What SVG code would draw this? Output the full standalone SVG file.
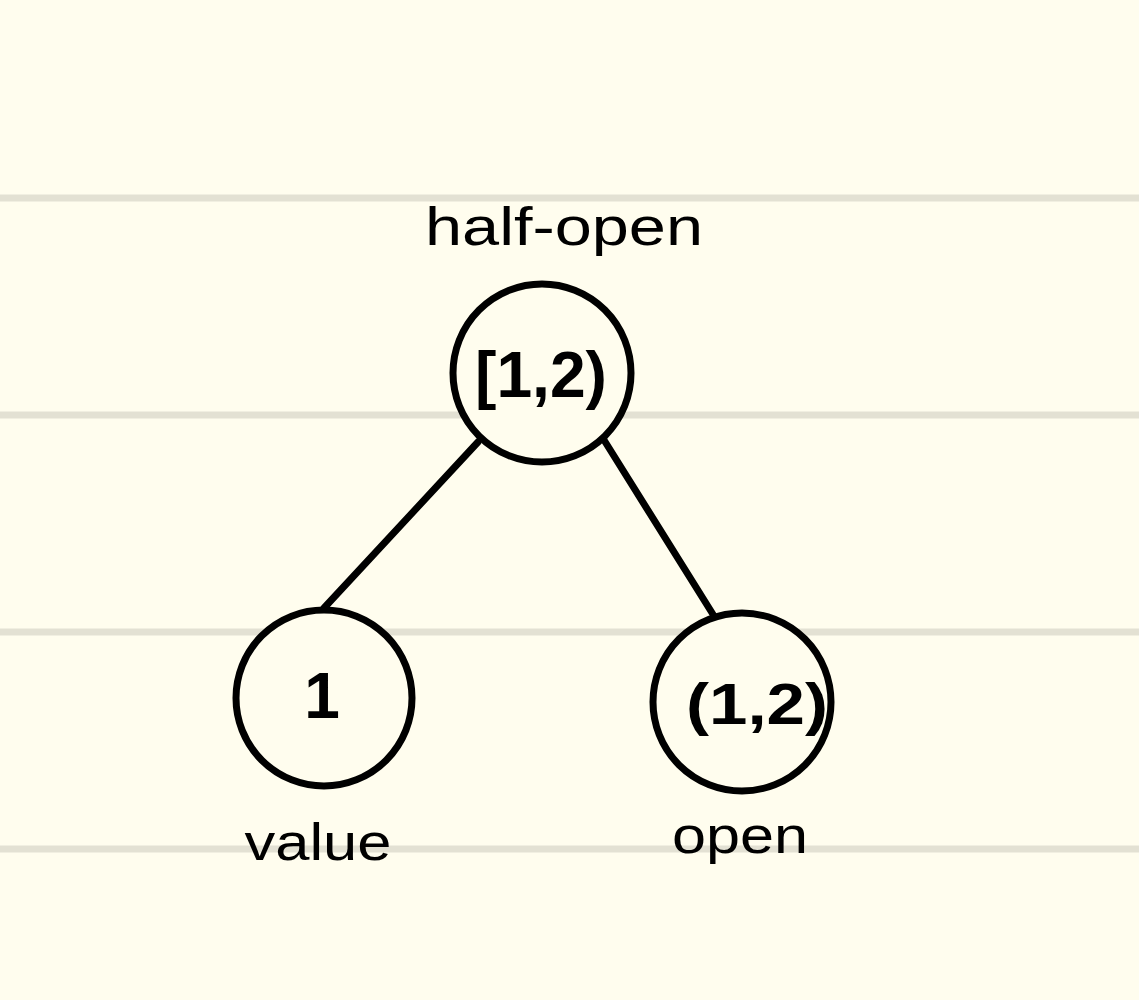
<svg xmlns="http://www.w3.org/2000/svg" width="1139" height="1000" viewBox="0 0 1139 1000">
<style>
.rule{stroke:#e3e1d3;stroke-width:7}
.edge{stroke:#000;stroke-width:7;stroke-linecap:round}
.node circle{fill:#fffdee;stroke:#000;stroke-width:7}
.lbl{font-family:"Liberation Sans",Arial,sans-serif;fill:#000;text-anchor:middle}
.val{font-family:"Liberation Sans",Arial,sans-serif;font-weight:bold;fill:#000;text-anchor:middle}
</style>
<rect width="1139" height="1000" fill="#fffdee"/>
<g id="rules">
<line class="rule" x1="0" y1="198" x2="1139" y2="198"/>
<line class="rule" x1="0" y1="415" x2="1139" y2="415"/>
<line class="rule" x1="0" y1="632" x2="1139" y2="632"/>
<line class="rule" x1="0" y1="849" x2="1139" y2="849"/>
</g>
<g id="connectors">
<line class="edge" x1="478" y1="442" x2="324" y2="608"/>
<line class="edge" x1="604" y1="440" x2="714" y2="616"/>
</g>
<g id="node-root" class="node">
<circle cx="542" cy="373" r="89"/>
<text class="val" x="541" y="397" font-size="64" textLength="132" lengthAdjust="spacingAndGlyphs">[1,2)</text>
<text class="lbl" x="564" y="245" font-size="54" textLength="278" lengthAdjust="spacingAndGlyphs">half-open</text>
</g>
<g id="node-left" class="node">
<circle cx="324" cy="698" r="88"/>
<text class="val" x="322" y="718" font-size="64">1</text>
<text class="lbl" x="318" y="860" font-size="52" textLength="147" lengthAdjust="spacingAndGlyphs">value</text>
</g>
<g id="node-right" class="node">
<circle cx="742" cy="702" r="89"/>
<text class="val" x="757" y="724" font-size="58" textLength="142" lengthAdjust="spacingAndGlyphs">(1,2)</text>
<text class="lbl" x="740" y="853" font-size="52" textLength="136" lengthAdjust="spacingAndGlyphs">open</text>
</g>
</svg>
